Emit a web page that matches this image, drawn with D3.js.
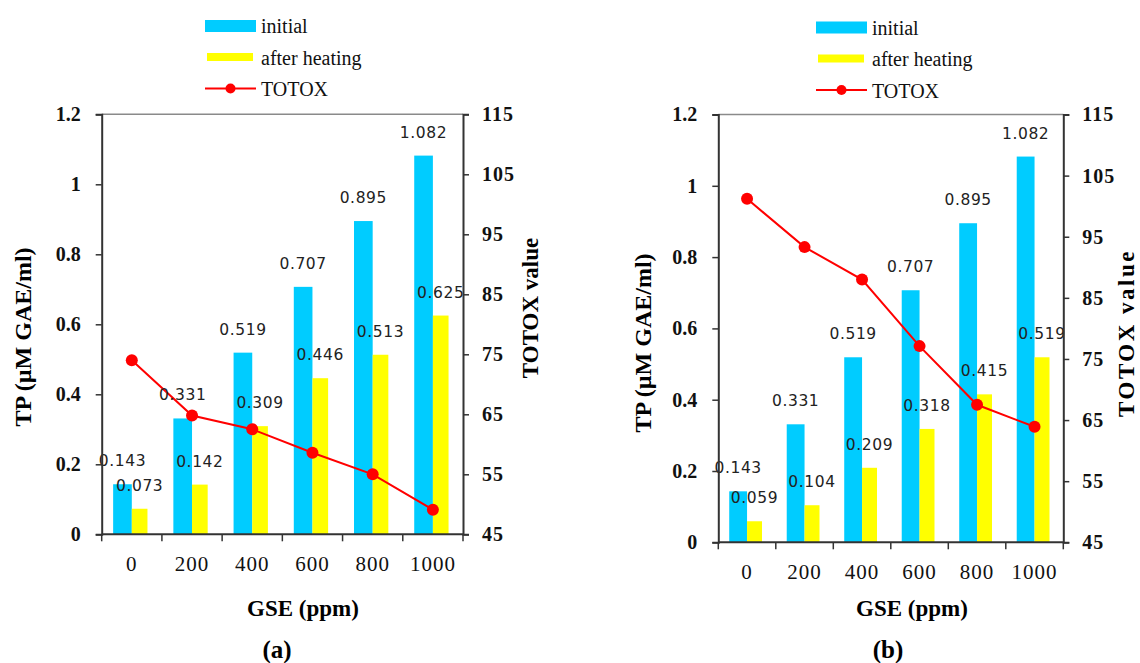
<!DOCTYPE html>
<html>
<head>
<meta charset="utf-8">
<script src="https://cdn.jsdelivr.net/npm/d3@7"></script>
<style>
  body { margin: 0; background: #fff; }
  text { font-family: "Liberation Serif", "Times New Roman", serif; }
</style>
</head>
<body>
<script>
// GSE concentration (ppm)
var categories = ["0", "200", "400", "600", "800", "1000"];

// panel (a)
var initialA = [0.143, 0.331, 0.519, 0.707, 0.895, 1.082];
var heatedA  = [0.073, 0.142, 0.309, 0.446, 0.513, 0.625];
var totoxA   = [74.0, 64.8, 62.5, 58.6, 55.0, 49.1];

// panel (b)
var initialB = [0.143, 0.331, 0.519, 0.707, 0.895, 1.082];
var heatedB  = [0.059, 0.104, 0.209, 0.318, 0.415, 0.519];
var totoxB   = [101.2, 93.3, 88.0, 77.1, 67.5, 63.9];

var tpTicks    = [0, 0.2, 0.4, 0.6, 0.8, 1, 1.2];
var totoxTicks = [45, 55, 65, 75, 85, 95, 105, 115];
var legendLabels = ["initial", "after heating", "TOTOX"];

var cyan = "#00ccff", yellow = "#ffff00", red = "#ff0000";

var svg = d3.select("body")
  .append("svg")
  .attr("width", 1140)
  .attr("height", 663);

var drawPanel = function(p) {
  var g = svg.append("g");

  var x = d3.scaleBand().domain(categories).range([p.left, p.right]).padding(0);
  var bw = x.bandwidth();
  var yL = d3.scaleLinear().domain([0, 1.2]).range([p.bottom, p.top]);
  var yR = d3.scaleLinear().domain([45, 115]).range([p.bottom, p.top]);

  // top border of the plot area
  g.append("line")
    .attr("x1", p.left).attr("x2", p.right)
    .attr("y1", p.top).attr("y2", p.top)
    .attr("stroke", "#8a8a8a").attr("stroke-width", 1.5);

  // bars
  g.selectAll(".ini")
    .data(p.initial)
    .enter()
    .append("rect")
    .attr("x", (d, i) => x(categories[i]) + bw * 0.19)
    .attr("width", bw * 0.31)
    .attr("y", d => yL(d))
    .attr("height", d => yL(0) - yL(d))
    .attr("fill", cyan);

  g.selectAll(".heat")
    .data(p.heated)
    .enter()
    .append("rect")
    .attr("x", (d, i) => x(categories[i]) + bw * 0.5)
    .attr("width", bw * 0.26)
    .attr("y", d => yL(d))
    .attr("height", d => yL(0) - yL(d))
    .attr("fill", yellow);

  // TOTOX line
  var line = d3.line()
    .x((d, i) => x(categories[i]) + bw / 2)
    .y(d => yR(d));
  g.append("path")
    .datum(p.totox)
    .attr("d", line)
    .attr("fill", "none")
    .attr("stroke", red)
    .attr("stroke-width", 2);
  g.selectAll(".dot")
    .data(p.totox)
    .enter()
    .append("circle")
    .attr("cx", (d, i) => x(categories[i]) + bw / 2)
    .attr("cy", d => yR(d))
    .attr("r", 6)
    .attr("fill", red);

  // value labels
  var fmt = d3.format(".3f");
  var labels = function(vals, dx, w) {
    g.selectAll(null)
      .data(vals)
      .enter()
      .append("text")
      .attr("x", (d, i) => x(categories[i]) + bw * dx + bw * w / 2)
      .attr("y", d => yL(d) - 23)
      .attr("dominant-baseline", "central")
      .attr("text-anchor", "middle")
      .style("font-family", "'DejaVu Sans', Verdana, sans-serif")
      .style("font-size", "15.5px")
      .style("letter-spacing", "0.6px")
      .attr("fill", "#222")
      .text(d => fmt(d));
  };
  labels(p.initial, 0.19, 0.31);
  labels(p.heated, 0.5, 0.26);

  // axes
  var axL = g.append("g")
    .attr("transform", "translate(" + p.left + ",0)")
    .call(d3.axisLeft(yL).tickValues(tpTicks).tickSize(6).tickPadding(15).tickFormat(d3.format("")));
  var axR = g.append("g")
    .attr("transform", "translate(" + p.right + ",0)")
    .call(d3.axisRight(yR).tickValues(totoxTicks).tickSize(6).tickPadding(13));
  var axB = g.append("g")
    .attr("transform", "translate(0," + p.bottom + ")")
    .call(d3.axisBottom(x).tickSize(0).tickPadding(22));

  [axL, axR, axB].forEach(function(a) {
    a.select(".domain").attr("stroke", "#333").attr("stroke-width", 2);
    a.selectAll(".tick line").attr("stroke", "#333").attr("stroke-width", 1.5);
  });
  axL.selectAll("text").style("font-size", "20px").style("font-weight", "bold").attr("fill", "#111")
    .style("font-family", "'Liberation Serif', serif");
  axR.selectAll("text").style("font-size", "20px").style("font-weight", "bold").attr("fill", "#111")
    .style("letter-spacing", "1px").style("font-family", "'Liberation Serif', serif");
  axB.selectAll("text").style("font-size", "21px").attr("fill", "#111")
    .style("letter-spacing", "1px").style("font-family", "'Liberation Serif', serif");
  axB.select(".domain").attr("d", "M" + p.left + ",0H" + p.right);

  // x ticks at band boundaries
  g.selectAll(".xt")
    .data(d3.range(categories.length + 1))
    .enter()
    .append("line")
    .attr("x1", i => p.left + i * bw).attr("x2", i => p.left + i * bw)
    .attr("y1", p.bottom).attr("y2", p.bottom + 7)
    .attr("stroke", "#333").attr("stroke-width", 1.5);

  // axis titles
  g.append("text")
    .attr("transform", "translate(" + p.tpX + "," + p.tpY + ") rotate(-90)")
    .attr("text-anchor", "middle")
    .attr("dominant-baseline", "central")
    .style("font-size", "24px").style("font-weight", "bold")
    .text("TP (µM GAE/ml)");
  g.append("text")
    .attr("transform", "translate(" + p.toX + "," + p.toY + ") rotate(-90)")
    .attr("text-anchor", "middle")
    .attr("dominant-baseline", "central")
    .style("font-size", "23px").style("font-weight", "bold")
    .style("letter-spacing", p.toSpacing)
    .text("TOTOX value");
  g.append("text")
    .attr("x", p.gseX).attr("y", 616)
    .attr("text-anchor", "middle")
    .style("font-size", "23px").style("font-weight", "bold")
    .text("GSE (ppm)");
  g.append("text")
    .attr("x", p.tagX).attr("y", 658)
    .attr("text-anchor", "middle")
    .style("font-size", "25px").style("font-weight", "bold")
    .text(p.tag);

  // legend
  var lx = p.legendX, ly = p.legendY;
  g.append("rect").attr("x", lx).attr("y", ly + 20).attr("width", 51).attr("height", 12).attr("fill", cyan);
  g.append("rect").attr("x", lx + 2).attr("y", ly + 53).attr("width", 46).attr("height", 8).attr("fill", yellow);
  g.append("line").attr("x1", lx).attr("x2", lx + 51).attr("y1", ly + 88.5).attr("y2", ly + 88.5)
    .attr("stroke", red).attr("stroke-width", 2);
  g.append("circle").attr("cx", lx + 25.5).attr("cy", ly + 88.5).attr("r", 5).attr("fill", red);
  g.selectAll(".leg")
    .data(legendLabels)
    .enter()
    .append("text")
    .attr("x", lx + 56)
    .attr("y", (d, i) => ly + 33 + i * 31.5)
    .style("font-size", "20px")
    .attr("fill", "#111")
    .text(d => d);
};

drawPanel({
  left: 101.7, right: 463, top: 114.3, bottom: 534.3,
  initial: initialA, heated: heatedA, totox: totoxA,
  tpX: 23, tpY: 337, toX: 530, toY: 308, toSpacing: "0px",
  gseX: 303, tagX: 277, tag: "(a)",
  legendX: 205, legendY: 0
});

drawPanel({
  left: 718.3, right: 1063.3, top: 114.5, bottom: 542.3,
  initial: initialB, heated: heatedB, totox: totoxB,
  tpX: 642.5, tpY: 343, toX: 1126, toY: 333, toSpacing: "2.5px",
  gseX: 912, tagX: 888, tag: "(b)",
  legendX: 816, legendY: 1.5
});
</script>
</body>
</html>
